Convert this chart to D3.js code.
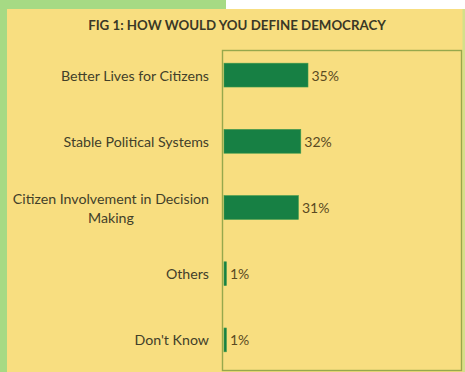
<!DOCTYPE html>
<html>
<head>
<meta charset="utf-8">
<script src="https://cdn.jsdelivr.net/npm/d3@7"></script>
<style>
  html, body { margin: 0; padding: 0; background: #fff; }
  svg { display: block; }
</style>
</head>
<body>
<script>
// Chart data
const categories = ['Better Lives for Citizens', 'Stable Political Systems', 'Citizen Involvement in Decision Making', 'Others', "Don't Know"]
const values = [35, 32, 31, 1, 1]
const labelLines = [['Better Lives for Citizens'], ['Stable Political Systems'], ['Citizen Involvement in Decision', 'Making'], ['Others'], ["Don't Know"]]
const title = 'FIG 1: HOW WOULD YOU DEFINE DEMOCRACY'

const width = 465
const height = 372
const plot = { left: 223, right: 462, top: 50, bottom: 370 }

const svg = d3.select('body').append('svg')
  .attr('width', width)
  .attr('height', height)

// Backgrounds: green strip, white corner, yellow panel
svg.append('rect').attr('x', 0).attr('y', 0).attr('width', width).attr('height', height).attr('fill', '#a6da84')
svg.append('rect').attr('x', 226).attr('y', 0).attr('width', width - 226).attr('height', 9).attr('fill', '#ffffff')
svg.append('rect').attr('x', 7).attr('y', 9).attr('width', width - 7).attr('height', height - 9).attr('fill', '#f8de80')
svg.append('rect').attr('x', 462.5).attr('y', 9).attr('width', 3).attr('height', height - 9).attr('fill', '#d3e08a')

// Scales
const xScale = d3.scaleLinear()
  .domain([0, 100])
  .range([plot.left + 1, plot.left + 241])

const yScale = d3.scaleBand()
  .domain(categories)
  .range([42, 373])
  .paddingInner(0.64)
  .paddingOuter(0.32)

// Title
svg.append('text')
  .text(title)
  .attr('x', 237)
  .attr('y', 29.5)
  .attr('text-anchor', 'middle')
  .attr('font-family', 'Lato, "Open Sans", sans-serif')
  .attr('font-weight', 'bold')
  .attr('font-size', 13.3)
  .attr('fill', '#3a3826')

// Plot frame
svg.append('rect')
  .attr('x', plot.left - 0.5)
  .attr('y', plot.top + 0.5)
  .attr('width', plot.right - plot.left)
  .attr('height', plot.bottom - plot.top)
  .attr('fill', 'none')
  .attr('stroke', '#97a84c')
  .attr('stroke-width', 1.4)

// Bars
svg.append('g')
  .selectAll('rect')
  .data(values)
  .join('rect')
  .attr('x', xScale(0))
  .attr('y', (d, i) => yScale(categories[i]))
  .attr('width', (d) => xScale(d) - xScale(0))
  .attr('height', yScale.bandwidth())
  .attr('fill', '#178044')
  .attr('stroke', '#3f9a4c')
  .attr('stroke-width', 0.6)

// Value labels
svg.append('g')
  .selectAll('text')
  .data(values)
  .join('text')
  .text((d) => d + '%')
  .attr('x', (d) => xScale(d) + 3.5)
  .attr('y', (d, i) => yScale(categories[i]) + yScale.bandwidth() / 2)
  .attr('dominant-baseline', 'central')
  .attr('font-family', 'Lato, "Open Sans", sans-serif')
  .attr('font-size', 14)
  .attr('fill', '#5a4a22')

// Category labels (multi-line ones are centred on each other, block right-aligned)
const labelRight = 209
const catGroup = svg.append('g')
  .attr('font-family', 'Lato, "Open Sans", sans-serif')
  .attr('font-size', 14.2)
  .attr('fill', '#42402a')

labelLines.forEach((lines, i) => {
  const cy = yScale(categories[i]) + yScale.bandwidth() / 2
  const lineH = 19
  const t = catGroup.append('text')
  lines.forEach((line, j) => {
    t.append('tspan')
      .text(line)
      .attr('y', cy + (j - (lines.length - 1) / 2) * lineH)
      .attr('dominant-baseline', 'central')
  })
  const spans = t.selectAll('tspan').nodes()
  const maxW = d3.max(spans, (s) => s.getComputedTextLength())
  if (lines.length > 1) {
    t.attr('text-anchor', 'middle')
    spans.forEach((s) => s.setAttribute('x', labelRight - maxW / 2))
  } else {
    t.attr('text-anchor', 'end')
    spans.forEach((s) => s.setAttribute('x', labelRight))
  }
})
</script>
</body>
</html>
